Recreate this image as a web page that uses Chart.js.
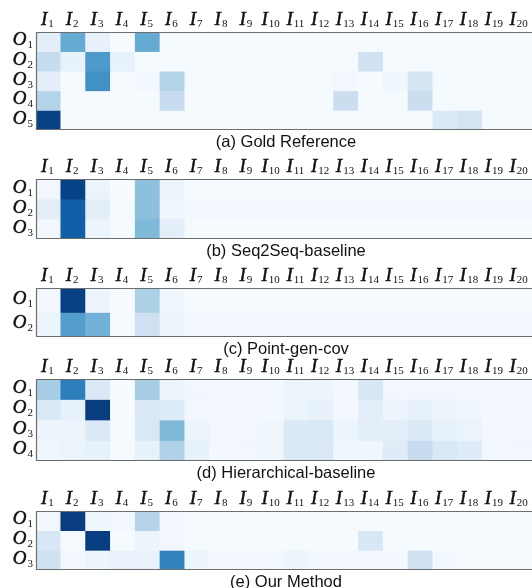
<!DOCTYPE html>
<html>
<head>
<meta charset="utf-8">
<script src="https://cdn.jsdelivr.net/npm/chart.js@4.4.1/dist/chart.umd.min.js"></script>
<style>
  html, body { margin: 0; padding: 0; background: #ffffff; }
  body { width: 532px; height: 588px; overflow: hidden; position: relative; }
  canvas { position: absolute; left: 0; }
</style>
</head>
<body>
<script>
// Input positions (columns) and output steps (rows); first letter is the symbol, the rest its subscript
const inputLabels = ['I1','I2','I3','I4','I5','I6','I7','I8','I9','I10',
                     'I11','I12','I13','I14','I15','I16','I17','I18','I19','I20'];
const outputLabels = ['O1','O2','O3','O4','O5'];

// Attention weights, one row per output step, one value per input position
const goldReference = [
  [0.10,0.52,0.08,0.00,0.52,0.01,0.01,0.01,0.01,0.01,0.01,0.01,0.01,0.01,0.01,0.01,0.01,0.01,0.01,0.01],
  [0.24,0.08,0.59,0.08,0.01,0.01,0.01,0.01,0.01,0.01,0.01,0.01,0.01,0.20,0.01,0.01,0.01,0.01,0.01,0.01],
  [0.10,0.01,0.63,0.01,0.02,0.31,0.01,0.01,0.01,0.01,0.01,0.01,0.03,0.01,0.04,0.18,0.01,0.01,0.01,0.01],
  [0.31,0.01,0.01,0.01,0.01,0.24,0.01,0.01,0.01,0.01,0.01,0.01,0.23,0.01,0.01,0.23,0.01,0.01,0.01,0.01],
  [0.93,0.01,0.01,0.01,0.01,0.01,0.01,0.01,0.01,0.01,0.01,0.01,0.01,0.01,0.01,0.01,0.14,0.17,0.01,0.01]
];
const seq2seqBaseline = [
  [0.03,0.93,0.06,0.00,0.42,0.06,0.01,0.01,0.01,0.01,0.01,0.01,0.01,0.01,0.01,0.01,0.01,0.01,0.01,0.01],
  [0.10,0.82,0.10,0.01,0.42,0.04,0.02,0.02,0.02,0.02,0.02,0.02,0.02,0.02,0.02,0.02,0.02,0.02,0.02,0.02],
  [0.03,0.82,0.05,0.01,0.45,0.10,0.01,0.01,0.01,0.01,0.01,0.01,0.01,0.01,0.01,0.01,0.01,0.01,0.01,0.01]
];
const pointGenCov = [
  [0.03,0.94,0.05,0.00,0.33,0.04,0.01,0.01,0.01,0.01,0.01,0.01,0.01,0.01,0.01,0.01,0.01,0.01,0.01,0.01],
  [0.05,0.57,0.48,0.01,0.21,0.05,0.02,0.02,0.02,0.02,0.02,0.02,0.02,0.02,0.02,0.03,0.02,0.02,0.02,0.02]
];
const hierarchicalBaseline = [
  [0.35,0.70,0.14,0.00,0.35,0.06,0.03,0.02,0.02,0.02,0.06,0.05,0.02,0.16,0.03,0.03,0.03,0.02,0.02,0.02],
  [0.15,0.08,0.95,0.00,0.14,0.13,0.03,0.02,0.02,0.02,0.06,0.08,0.02,0.10,0.05,0.08,0.05,0.04,0.02,0.02],
  [0.05,0.06,0.14,0.01,0.15,0.45,0.06,0.03,0.03,0.04,0.14,0.15,0.05,0.10,0.10,0.14,0.08,0.06,0.02,0.03],
  [0.04,0.06,0.08,0.01,0.08,0.32,0.08,0.02,0.03,0.04,0.14,0.14,0.04,0.04,0.12,0.24,0.15,0.12,0.03,0.03]
];
const ourMethod = [
  [0.03,0.95,0.04,0.02,0.30,0.02,0.01,0.01,0.01,0.01,0.01,0.01,0.01,0.01,0.01,0.01,0.01,0.01,0.01,0.01],
  [0.16,0.01,0.95,0.01,0.05,0.03,0.01,0.01,0.01,0.01,0.01,0.01,0.01,0.16,0.01,0.01,0.01,0.01,0.01,0.01],
  [0.20,0.02,0.05,0.07,0.07,0.68,0.05,0.02,0.02,0.02,0.05,0.03,0.03,0.02,0.02,0.20,0.02,0.01,0.01,0.01]
];

const panelTitles = ['(a) Gold Reference','(b) Seq2Seq-baseline','(c) Point-gen-cov','(d) Hierarchical-baseline','(e) Our Method'];
const panelWeights = [goldReference, seq2seqBaseline, pointGenCov, hierarchicalBaseline, ourMethod];

// Page placement of each heatmap's cell area (top / bottom in px)
const panelBoxes = [
  { top: 32,  bottom: 130 },
  { top: 179, bottom: 239 },
  { top: 288, bottom: 337 },
  { top: 379, bottom: 461 },
  { top: 511, bottom: 570 }
];
const PAD_TOP = 34, PAD_BOTTOM = 24, PAD_LEFT = 36, WIDTH = 532;

// Sequential blue colour scale
const BLUES = ['#f7fbff','#deebf7','#c6dbef','#9ecae1','#6baed6','#4292c6','#2171b5','#08519c','#08306b'];
function hexToRgb(h) { return [parseInt(h.slice(1,3),16), parseInt(h.slice(3,5),16), parseInt(h.slice(5,7),16)]; }
const BLUES_RGB = BLUES.map(hexToRgb);
function blues(v) {
  const t = Math.max(0, Math.min(1, v)) * (BLUES_RGB.length - 1);
  const i = Math.min(Math.floor(t), BLUES_RGB.length - 2);
  const f = t - i;
  const a = BLUES_RGB[i], b = BLUES_RGB[i + 1];
  const c = a.map((x, k) => Math.round(x + (b[k] - x) * f));
  return 'rgb(' + c.join(',') + ')';
}

const SERIF = '"Liberation Serif", "DejaVu Serif", serif';
const SANS = '"Liberation Sans", Arial, sans-serif';

// Italic symbol followed by an upright, lowered subscript
function drawSubscripted(ctx, label, x, y, align, mainSize, subSize, subDrop) {
  const main = label.charAt(0), sub = label.slice(1);
  ctx.font = 'italic ' + mainSize + 'px ' + SERIF;
  const wm = ctx.measureText(main).width;
  ctx.font = subSize + 'px ' + SERIF;
  const ws = ctx.measureText(sub).width;
  const gap = 1;
  const total = wm + gap + ws;
  const x0 = align === 'right' ? x - total : x - total / 2;
  ctx.textAlign = 'left';
  ctx.textBaseline = 'alphabetic';
  ctx.fillStyle = '#111111';
  ctx.strokeStyle = '#111111';
  ctx.lineWidth = 0.45;
  ctx.font = 'italic ' + mainSize + 'px ' + SERIF;
  ctx.fillText(main, x0, y);
  ctx.strokeText(main, x0, y);
  ctx.font = subSize + 'px ' + SERIF;
  ctx.fillText(sub, x0 + wm + gap, y + subDrop);
}

// Frame, axis labels and caption for each heatmap
const heatmapDecor = {
  id: 'heatmapDecor',
  afterDatasetsDraw(chart, args, opts) {
    const { ctx, chartArea } = chart;
    const xs = chart.scales.x, ys = chart.scales.y;
    ctx.save();
    ctx.strokeStyle = '#6e6e6e';
    ctx.lineWidth = 1.2;
    ctx.beginPath();
    ctx.moveTo(chart.width + 2, chartArea.top + 0.5);
    ctx.lineTo(chartArea.left + 0.5, chartArea.top + 0.5);
    ctx.lineTo(chartArea.left + 0.5, chartArea.bottom - 0.5);
    ctx.lineTo(chart.width + 2, chartArea.bottom - 0.5);
    ctx.stroke();

    inputLabels.forEach((lab, i) => {
      const cx = xs.getPixelForValue(i);
      drawSubscripted(ctx, lab, cx - 1, chartArea.top - 7, 'center', 19, 11, 2);
    });
    for (let r = 0; r < opts.rows; r++) {
      const cy = ys.getPixelForValue(r + 0.5);
      drawSubscripted(ctx, outputLabels[r], chartArea.left - 3, cy + 3.5, 'right', 19, 11, 3);
    }
    ctx.font = '16.5px ' + SANS;
    ctx.fillStyle = '#111111';
    ctx.textAlign = 'center';
    ctx.textBaseline = 'middle';
    ctx.fillText(opts.title, (chartArea.left + chartArea.right) / 2 + 2, chartArea.bottom + 12);
    ctx.restore();
  }
};

panelWeights.forEach((weights, p) => {
  const box = panelBoxes[p];
  const canvas = document.createElement('canvas');
  const h = (box.bottom - box.top) + PAD_TOP + PAD_BOTTOM;
  canvas.width = WIDTH; canvas.height = h;
  canvas.style.width = WIDTH + 'px'; canvas.style.height = h + 'px';
  canvas.style.top = (box.top - PAD_TOP) + 'px';
  document.body.appendChild(canvas);

  const rows = weights.length;
  // One floating bar per cell: row r spans [r, r+1] on the output axis
  const datasets = weights.map((rowVals, r) => ({
    label: outputLabels[r],
    data: rowVals.map(() => [r, r + 1]),
    backgroundColor: rowVals.map(blues),
    borderWidth: 0,
    barPercentage: 1,
    categoryPercentage: 1
  }));

  new Chart(canvas, {
    type: 'bar',
    data: { labels: inputLabels, datasets },
    options: {
      responsive: false,
      animation: false,
      devicePixelRatio: 1,
      layout: { padding: { left: PAD_LEFT, right: 0, top: PAD_TOP, bottom: PAD_BOTTOM } },
      plugins: {
        legend: { display: false },
        tooltip: { enabled: false },
        heatmapDecor: { title: panelTitles[p], rows }
      },
      scales: {
        x: { type: 'category', stacked: true, display: false, offset: true },
        y: { type: 'linear', min: 0, max: rows, reverse: true, display: false }
      }
    },
    plugins: [heatmapDecor]
  });
});
</script>
</body>
</html>
